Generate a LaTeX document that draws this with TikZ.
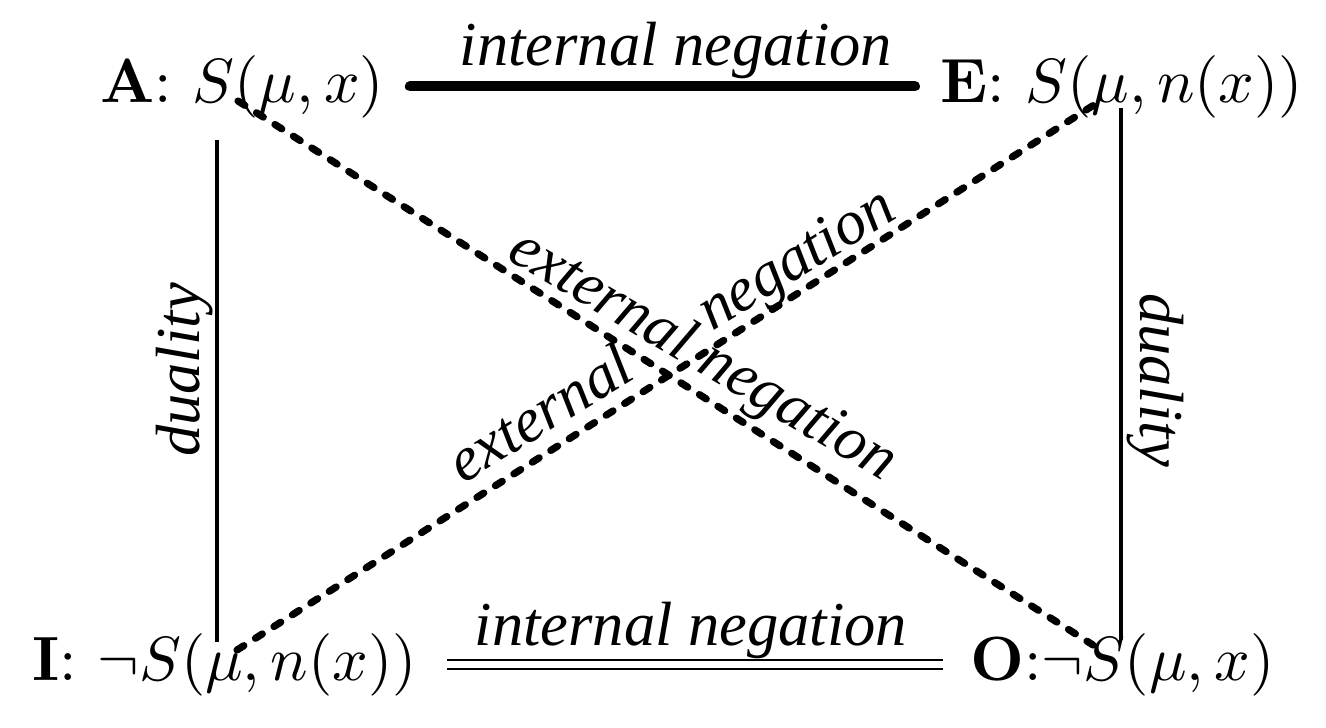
\documentclass[tikz,border=0pt]{standalone}
\usepackage{fontspec}
\newfontfamily\labfont{Liberation Serif}
\begin{document}
\begin{tikzpicture}[x=0.16pt,y=-0.16pt,
  mathnode/.style={inner sep=0pt, outer sep=0pt, anchor=base west, font=\fontsize{10}{12}\selectfont},
  lab/.style={inner sep=0pt, font=\labfont\itshape\fontsize{10}{12}\selectfont},
  solidedge/.style={line width=0.6pt},
  thickedge/.style={line width=1.6pt, line cap=round},
  doubleedge/.style={double, line width=0.35pt, double distance=1.1pt},
  dashedge/.style={line width=1.15pt, line cap=round, dash pattern=on 1.3pt off 2.2pt}]
\useasboundingbox (0,0) rectangle (1326,727);
% statements
\node[mathnode] (A) at (100,102) {\textbf{A}: $S(\mu,x)$};
\node[mathnode] (E) at (940,102) {\textbf{E}: $S(\mu,n(x))$};
\node[mathnode] (I) at (32,680) {\textbf{I}: $\neg S(\mu,n(x))$};
\node[mathnode] (O) at (970,680) {\textbf{O}:$\neg S(\mu,x)$};
% connector end points
\coordinate (a1) at (217,140);
\coordinate (i1) at (217,642);
\coordinate (e1) at (1121,108);
\coordinate (o1) at (1121,640);
\coordinate (a2) at (238,101);
\coordinate (o2) at (1093,645);
\coordinate (i2) at (237,650);
\coordinate (e2) at (1097,103);
% connectors
\draw[thickedge, shorten <=4.1pt, shorten >=4pt] (A.east) -- (E.west);
\draw[doubleedge, shorten <=4.8pt, shorten >=4.3pt] (I.east) -- (O.west);
\draw[solidedge] (a1) -- (i1);
\draw[solidedge] (e1) -- (o1);
\draw[dashedge] (a2) -- (o2);
\draw[dashedge] (i2) -- (e2);
% labels
\node[lab, anchor=base] (t1) at (676,65) {internal negation};
\node[lab, anchor=base] (t2) at (691,645) {internal negation};
\node[lab, rotate=90] (d1) at (185,370) {duality};
\node[lab, rotate=-90] (d2) at (1155,380) {duality};
\node[lab, rotate=-30.5] (x1) at (702,357) {external negation};
\node[lab, rotate=31.5] (x2) at (673,338) {external\hspace{14pt}negation};
\end{tikzpicture}
\end{document}
